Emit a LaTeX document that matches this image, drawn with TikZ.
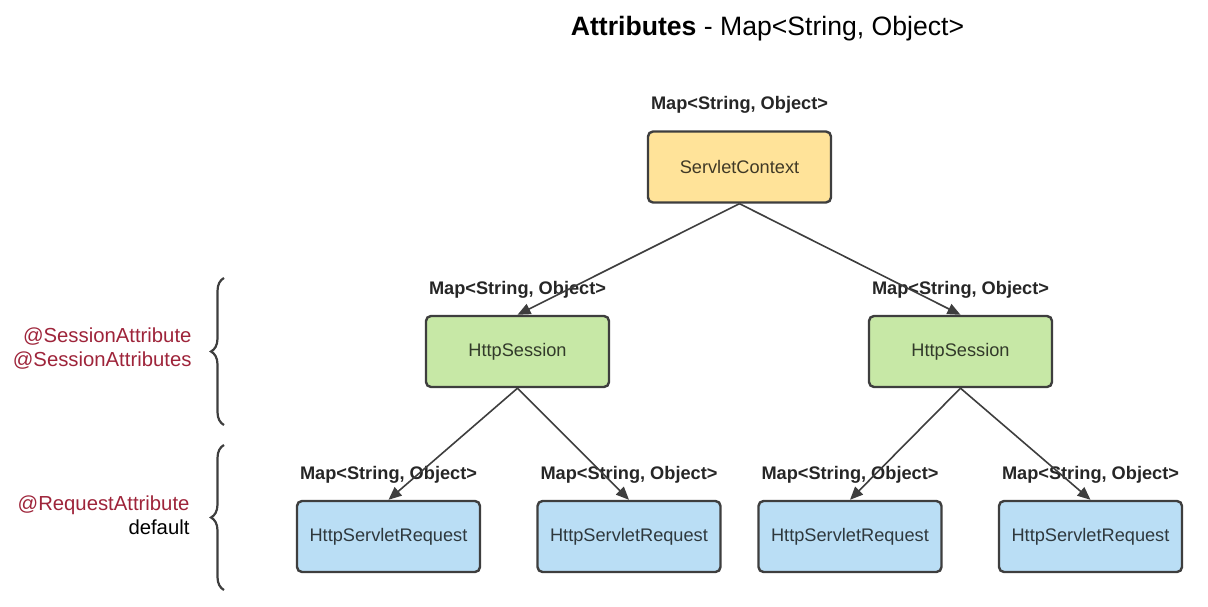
\documentclass[tikz,border=0pt]{standalone}
\usepackage{fontspec}
\setmainfont{Liberation Sans}
\usetikzlibrary{arrows.meta,decorations.pathreplacing,positioning}
\definecolor{ctxfill}{RGB}{255,227,153}
\definecolor{sessfill}{RGB}{199,232,166}
\definecolor{reqfill}{RGB}{186,222,245}
\definecolor{edgegray}{RGB}{62,62,62}
\definecolor{annored}{RGB}{158,36,58}

\begin{document}
\begin{tikzpicture}[x=1pt, y=-1pt,
    box/.style={draw=edgegray, line width=2.4pt, rounded corners=5pt, minimum width=183pt, minimum height=71pt, font=\fontsize{18.2}{20}\selectfont},
    maplbl/.style={font=\bfseries\fontsize{18.2}{20}\selectfont, text=black!85},
    link/.style={draw=edgegray, line width=1.6pt, -{Triangle[length=13pt,width=11pt]}},
    anno/.style={font=\fontsize{20.3}{24}\selectfont, align=right, anchor=east},
    curly/.style={draw=edgegray, line width=2.2pt, decorate, decoration={brace, amplitude=13pt}}]

    \useasboundingbox (0,0) rectangle (1208,607);

    % Titolo
    \node (title) at (767.5,29) {\fontsize{26.6}{30}\selectfont\textbf{Attributes} - Map<String, Object>};

    % Nodi
    \node[box, fill=ctxfill, text=ctxfill!25!black] (ctx) at (739.5,167) {ServletContext};
    \node[box, fill=sessfill, text=sessfill!25!black] (sessL) at (517.5,351.5) {HttpSession};
    \node[box, fill=sessfill, text=sessfill!25!black] (sessR) at (960.5,351.5) {HttpSession};
    \foreach \name/\x in {reqA/388.5, reqB/629, reqC/850, reqD/1090.5}
        \node[box, fill=reqfill, text=reqfill!25!black] (\name) at (\x,536.5) {HttpServletRequest};

    % Etichette Map
    \foreach \name in {ctx,sessL,sessR,reqA,reqB,reqC,reqD}
        \node[maplbl, above=13pt of \name] (map\name) {Map<String, Object>};

    % Frecce
    \draw[link] (ctx.south) -- (sessL.north);
    \draw[link] (ctx.south) -- (sessR.north);
    \draw[link] (sessL.south) -- (reqA.north);
    \draw[link] (sessL.south) -- (reqB.north);
    \draw[link] (sessR.south) -- (reqC.north);
    \draw[link] (sessR.south) -- (reqD.north);

    % Parentesi graffe
    \coordinate (sessBot) at (224,425);
    \coordinate (sessTop) at (224,278);
    \coordinate (reqBot) at (224,590);
    \coordinate (reqTop) at (224,445);
    \draw[curly] (sessBot) -- (sessTop);
    \draw[curly] (reqBot) -- (reqTop);

    % Annotazioni
    \node[anno, text=annored] (sessanno) at (195,349) {@SessionAttribute\\@SessionAttributes};
    \node[anno] (reqanno) at (193,515) {\textcolor{annored}{@RequestAttribute}\\default};
\end{tikzpicture}
\end{document}
